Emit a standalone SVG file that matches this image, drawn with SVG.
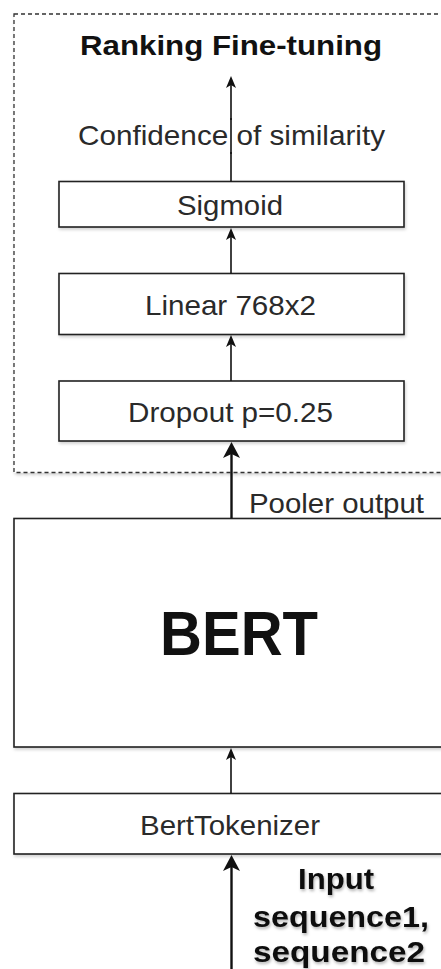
<svg xmlns="http://www.w3.org/2000/svg" width="441" height="969" viewBox="0 0 441 969">
  <style>
    .box { fill: #ffffff; stroke: #222222; stroke-width: 1.6; }
    .frame { fill: #ffffff; stroke: #333333; stroke-width: 1.3; stroke-dasharray: 4 3; }
    .lbl { font-family: "Liberation Sans", Arial, sans-serif; font-size: 28px; fill: #2a2a2a; }
    .bold { font-family: "Liberation Sans", Arial, sans-serif; font-weight: bold; fill: #111111; }
    .conn { fill: none; stroke: #111111; }
  </style>
  <defs>
    <filter id="shadow" x="-10%" y="-10%" width="130%" height="140%">
      <feDropShadow dx="1" dy="2" stdDeviation="1.5" flood-color="#000000" flood-opacity="0.18"/>
    </filter>
    <filter id="tshadow" x="-10%" y="-20%" width="130%" height="150%">
      <feDropShadow dx="1" dy="2" stdDeviation="1.5" flood-color="#000000" flood-opacity="0.3"/>
    </filter>
    <marker id="arrow" viewBox="0 0 12 10" markerWidth="12" markerHeight="10" refX="9" refY="5" orient="auto" markerUnits="userSpaceOnUse">
      <path d="M0,0 L12,5 L0,10 L3,5 z" fill="#111111"/>
    </marker>
    <marker id="arrowBig" viewBox="0 0 16 17" markerWidth="16" markerHeight="17" refX="12" refY="8.5" orient="auto" markerUnits="userSpaceOnUse">
      <path d="M0,0 L16,8.5 L0,17 L4,8.5 z" fill="#111111"/>
    </marker>
  </defs>

  <rect width="441" height="969" fill="#ffffff"/>

  <g id="ranking-finetuning">
    <rect class="frame" x="14" y="14" width="460" height="458.5" filter="url(#shadow)"/>
    <text class="bold" x="80" y="55" font-size="28" textLength="302" lengthAdjust="spacingAndGlyphs">Ranking Fine-tuning</text>
  </g>

  <g id="sigmoid">
    <rect class="box" x="59" y="181.5" width="345" height="45.5" filter="url(#shadow)"/>
    <text class="lbl" x="177" y="215" textLength="106" lengthAdjust="spacingAndGlyphs">Sigmoid</text>
  </g>

  <g id="linear">
    <rect class="box" x="59" y="273.5" width="345" height="61" filter="url(#shadow)"/>
    <text class="lbl" x="145" y="315" textLength="171" lengthAdjust="spacingAndGlyphs">Linear 768x2</text>
  </g>

  <g id="dropout">
    <rect class="box" x="59" y="381" width="345" height="60" filter="url(#shadow)"/>
    <text class="lbl" x="128" y="422" textLength="205" lengthAdjust="spacingAndGlyphs">Dropout p=0.25</text>
  </g>

  <g id="bert">
    <rect class="box" x="14" y="518.5" width="460" height="228.5" filter="url(#shadow)"/>
    <text class="bold" x="160" y="655" font-size="63" textLength="158" lengthAdjust="spacingAndGlyphs">BERT</text>
  </g>

  <g id="tokenizer">
    <rect class="box" x="14" y="793.5" width="460" height="60.5" filter="url(#shadow)"/>
    <text class="lbl" x="140" y="835" textLength="180" lengthAdjust="spacingAndGlyphs">BertTokenizer</text>
  </g>

  <g id="connectors">
    <line class="conn" x1="231" y1="181.5" x2="231" y2="79" stroke-width="1.6" marker-end="url(#arrow)"/>
    <line class="conn" x1="231" y1="273.5" x2="231" y2="231" stroke-width="1.6" marker-end="url(#arrow)"/>
    <line class="conn" x1="231" y1="381" x2="231" y2="338" stroke-width="1.6" marker-end="url(#arrow)"/>
    <line class="conn" x1="231.5" y1="518.5" x2="231.5" y2="446" stroke-width="2.4" marker-end="url(#arrowBig)"/>
    <line class="conn" x1="231" y1="793.5" x2="231" y2="751" stroke-width="1.6" marker-end="url(#arrow)"/>
    <line class="conn" x1="231.5" y1="969" x2="231.5" y2="859" stroke-width="2.4" marker-end="url(#arrowBig)"/>
  </g>

  <g id="connector-labels">
    <rect x="78" y="120" width="307" height="32" fill="#ffffff"/>
    <text class="lbl" x="78" y="145" textLength="307" lengthAdjust="spacingAndGlyphs">Confidence of similarity</text>
    <line class="conn" x1="231" y1="118" x2="231" y2="154" stroke-width="1.6"/>
    <text class="lbl" x="249" y="513" textLength="175" lengthAdjust="spacingAndGlyphs">Pooler output</text>
    <g filter="url(#tshadow)">
      <text class="bold" x="298" y="889" font-size="29" textLength="76" lengthAdjust="spacingAndGlyphs">Input</text>
      <text class="bold" x="253" y="927" font-size="29" textLength="176" lengthAdjust="spacingAndGlyphs">sequence1,</text>
      <text class="bold" x="253" y="962" font-size="29" textLength="172" lengthAdjust="spacingAndGlyphs">sequence2</text>
    </g>
  </g>
</svg>
